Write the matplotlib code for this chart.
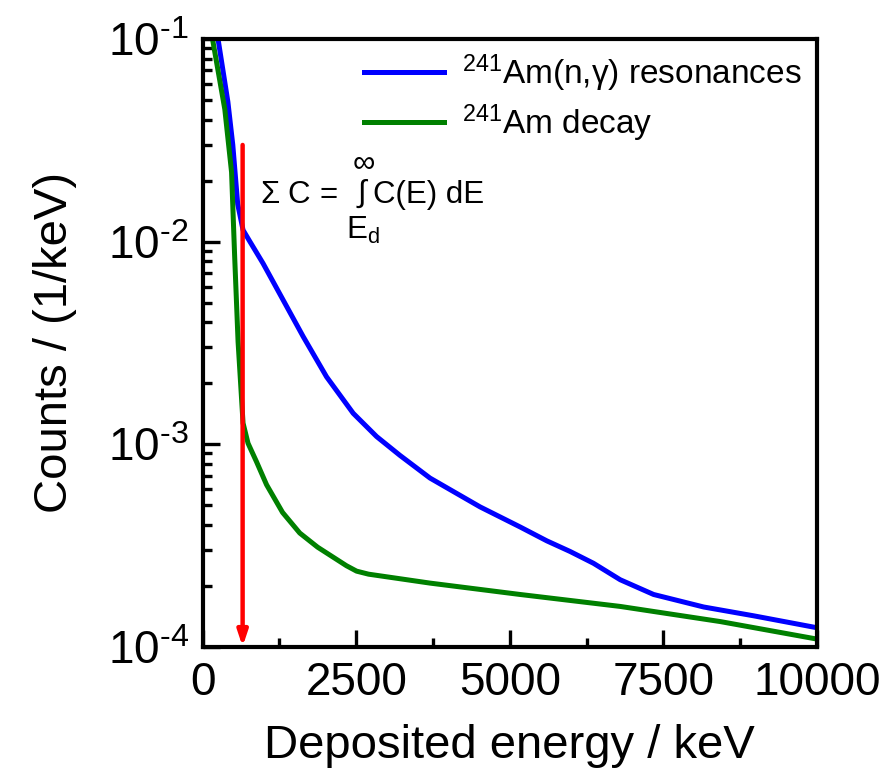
import numpy as np
import matplotlib.pyplot as plt
from matplotlib.ticker import MultipleLocator, LogLocator, FuncFormatter

plt.rcParams['font.family'] = ['Liberation Sans', 'DejaVu Sans']
plt.rcParams['mathtext.fontset'] = 'custom'
plt.rcParams['mathtext.rm'] = 'Liberation Sans'
plt.rcParams['mathtext.it'] = 'Liberation Sans:italic'
plt.rcParams['mathtext.bf'] = 'Liberation Sans:bold'

# spectra (keV, counts/keV)
res_E = [200, 250, 410, 490, 570, 657, 760, 983, 1309, 1635, 2016, 2450, 2831,
         3211, 3700, 4515, 5167, 5602, 5982, 6362, 6797, 7340, 8155, 8970, 10000]
res_C = [0.125, 0.1, 0.049, 0.030, 0.0153, 0.0114, 0.0101, 0.0078, 0.00515,
         0.0034, 0.00215, 0.00142, 0.00109, 8.8e-4, 6.8e-4, 4.9e-4, 3.9e-4,
         3.33e-4, 2.95e-4, 2.58e-4, 2.14e-4, 1.81e-4, 1.57e-4, 1.42e-4, 1.24e-4]

dec_E = [100, 160, 360, 470, 520, 576, 657, 738, 875, 1040, 1300, 1580, 1870,
         2340, 2505, 2700, 3700, 5167, 6797, 8427, 10000]
dec_C = [0.13, 0.1, 0.045, 0.022, 0.0085, 0.0032, 0.00127, 0.00101, 8.2e-4,
         6.3e-4, 4.6e-4, 3.64e-4, 3.1e-4, 2.51e-4, 2.36e-4, 2.28e-4, 2.06e-4,
         1.81e-4, 1.58e-4, 1.33e-4, 1.09e-4]

E_d = 650
arrow_top = 0.030

fig = plt.figure(figsize=(8.89, 7.81), dpi=100)
ax = fig.add_axes([0.228, 0.172, 0.691, 0.778])

ax.plot(res_E, res_C, color='#0000ff', lw=3.6, label=r'$^{241}$Am(n,γ) resonances')
ax.plot(dec_E, dec_C, color='#008000', lw=3.6, label=r'$^{241}$Am decay')

ax.annotate('', xy=(E_d, 1e-4), xytext=(E_d, arrow_top),
            arrowprops=dict(arrowstyle='-|>,head_length=0.9,head_width=0.3',
                            color='red', lw=3.2, shrinkA=0, shrinkB=0))

# sum formula
fs = 22.5
ax.text(0.094, 0.743, r'$\Sigma$ C =', transform=ax.transAxes, fontsize=fs,
        va='center', ha='left')
ax.text(0.260, 0.745, r'$\int$', transform=ax.transAxes, fontsize=fs,
        va='center', ha='center')
ax.text(0.262, 0.797, r'$\infty$', transform=ax.transAxes, fontsize=fs,
        va='center', ha='center')
ax.text(0.234, 0.685, r'E$_{\rm d}$', transform=ax.transAxes, fontsize=fs,
        va='center', ha='left')
ax.text(0.278, 0.743, 'C(E) dE', transform=ax.transAxes, fontsize=fs,
        va='center', ha='left')

ax.set_yscale('log')
ax.set_xlim(0, 10000)
ax.set_ylim(1e-4, 1e-1)
ax.xaxis.set_major_locator(MultipleLocator(2500))
ax.xaxis.set_minor_locator(MultipleLocator(1250))
ax.yaxis.set_major_locator(LogLocator(base=10))
ax.yaxis.set_minor_locator(LogLocator(base=10, subs=np.arange(2, 10)))
ax.yaxis.set_major_formatter(
    FuncFormatter(lambda v, p: r'10$^{\text{-%d}}$' % round(-np.log10(v))))

ax.tick_params(which='both', direction='in', width=2.4, top=False, right=False)
ax.tick_params(which='major', length=12, labelsize=33, pad=10)
ax.tick_params(which='minor', length=6.5)
for s in ax.spines.values():
    s.set_linewidth(3)

ax.set_xlabel('Deposited energy / keV', fontsize=34, labelpad=14)
ax.set_ylabel('Counts / (1/keV)', fontsize=34, labelpad=22)

ax.legend(loc='upper right', frameon=False, fontsize=24, handlelength=2.4,
          handletextpad=0.55, labelspacing=0.25, borderaxespad=0.0,
          bbox_to_anchor=(0.997, 1.0))

plt.savefig('out.png', dpi=100)
